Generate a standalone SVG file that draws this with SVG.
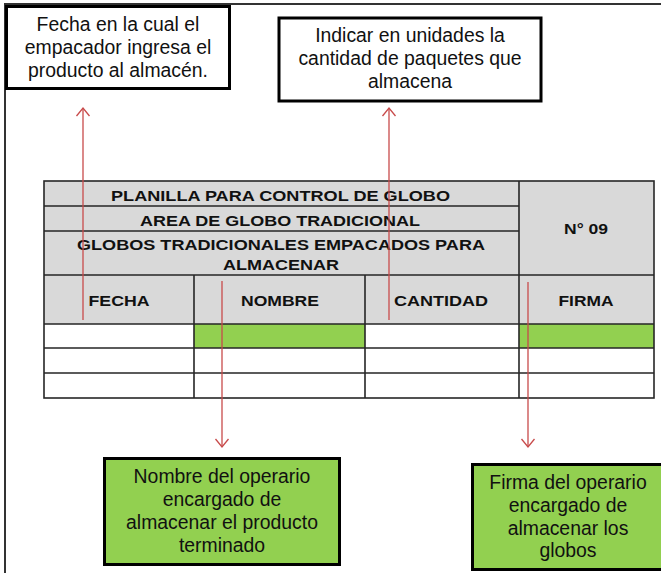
<svg xmlns="http://www.w3.org/2000/svg" width="661" height="573" viewBox="0 0 661 573">
<defs>
<marker id="arr" markerUnits="userSpaceOnUse" markerWidth="12" markerHeight="16" refX="9" refY="8" orient="auto" viewBox="0 0 12 16">
<path d="M1,1.5 L9,8 L1,14.5" fill="none" stroke="#c84b4b" stroke-width="1.3"/>
</marker>
</defs>
<style>
.note{fill:#fff;stroke:#000;stroke-width:3}
.green{fill:#92d050;stroke:#000;stroke-width:3}
.t{font-family:"Liberation Sans",Arial,sans-serif;font-size:19.4px;fill:#111;text-anchor:middle}
.h{font-family:"Liberation Sans",Arial,sans-serif;font-size:15.5px;font-weight:bold;fill:#111;text-anchor:middle}
.hd{fill:#d9d9d9}
.gr{fill:#92d050}
.ln{stroke:#262626;stroke-width:1.6;fill:none}
.con{stroke:#c84b4b;stroke-width:1.3;fill:none}
</style>
<rect width="661" height="573" fill="#fff"/>
<g id="frame">
<path d="M5,573 V4 H661" fill="none" stroke="#333" stroke-width="2"/>
</g>
<g id="note-fecha">
<rect class="note" x="6.5" y="6.5" width="223" height="82"/>
<text class="t" x="118" y="31">Fecha en la cual el</text>
<text class="t" x="118" y="54">empacador ingresa el</text>
<text class="t" x="118" y="77">producto al almacén.</text>
</g>
<g id="note-cantidad">
<rect class="note" x="279" y="18" width="262" height="83"/>
<text class="t" x="410" y="42">Indicar en unidades la</text>
<text class="t" x="410" y="65">cantidad de paquetes que</text>
<text class="t" x="410" y="88">almacena</text>
</g>
<g id="table">
<rect class="hd" x="44" y="181" width="610" height="143"/>
<rect fill="#fff" x="44" y="324" width="610" height="74"/>
<rect class="gr" x="194" y="324" width="171" height="24"/>
<rect class="gr" x="519" y="324" width="135" height="24"/>
<rect class="ln" x="44" y="181" width="610" height="217"/>
<path class="ln" d="M44,206 H519 M44,231 H519 M44,275 H654 M44,324 H654 M44,348 H654 M44,373 H654 M519,181 V398 M194,275 V398 M365,275 V398"/>
<text class="h" x="280.5" y="201" textLength="339" lengthAdjust="spacingAndGlyphs">PLANILLA PARA CONTROL DE GLOBO</text>
<text class="h" x="280" y="226" textLength="280" lengthAdjust="spacingAndGlyphs">AREA DE GLOBO TRADICIONAL</text>
<text class="h" x="281" y="250" textLength="408" lengthAdjust="spacingAndGlyphs">GLOBOS TRADICIONALES EMPACADOS PARA</text>
<text class="h" x="281" y="270" textLength="116" lengthAdjust="spacingAndGlyphs">ALMACENAR</text>
<text class="h" x="586" y="234" textLength="44" lengthAdjust="spacingAndGlyphs">N° 09</text>
<text class="h" x="119" y="306" textLength="61" lengthAdjust="spacingAndGlyphs">FECHA</text>
<text class="h" x="280" y="306" textLength="78" lengthAdjust="spacingAndGlyphs">NOMBRE</text>
<text class="h" x="441" y="306" textLength="94" lengthAdjust="spacingAndGlyphs">CANTIDAD</text>
<text class="h" x="586" y="306" textLength="55" lengthAdjust="spacingAndGlyphs">FIRMA</text>
</g>
<g id="note-nombre">
<rect class="green" x="104.5" y="458.5" width="235" height="106"/>
<text class="t" x="222" y="483">Nombre del operario</text>
<text class="t" x="222" y="506">encargado de</text>
<text class="t" x="222" y="529">almacenar el producto</text>
<text class="t" x="222" y="552">terminado</text>
</g>
<g id="note-firma">
<rect class="green" x="472.5" y="464.5" width="200" height="105"/>
<text class="t" x="568" y="489">Firma del operario</text>
<text class="t" x="568" y="512">encargado de</text>
<text class="t" x="568" y="535">almacenar los</text>
<text class="t" x="568" y="557">globos</text>
</g>
<g id="connectors">
<line class="con" x1="83" y1="320" x2="83" y2="108" marker-end="url(#arr)"/>
<line class="con" x1="389" y1="320" x2="389" y2="108" marker-end="url(#arr)"/>
<line class="con" x1="222" y1="281" x2="222" y2="447" marker-end="url(#arr)"/>
<line class="con" x1="528" y1="282" x2="528" y2="447" marker-end="url(#arr)"/>
</g>
</svg>
